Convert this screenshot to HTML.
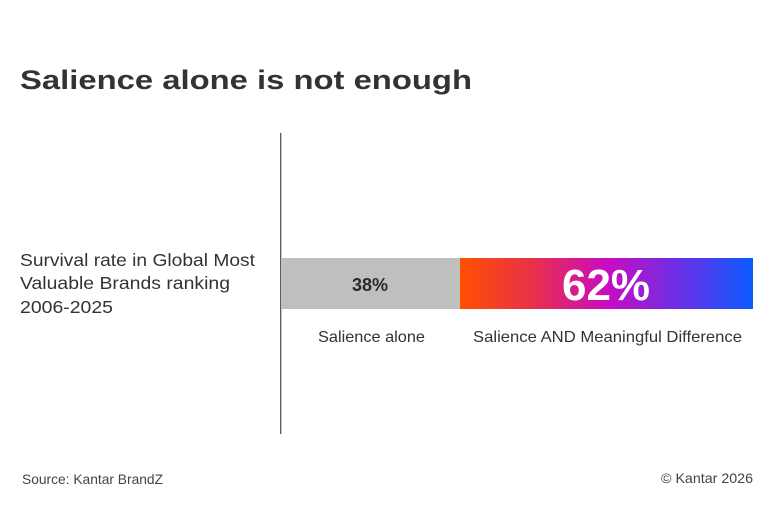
<!DOCTYPE html>
<html><head><meta charset="utf-8"><style>
html,body{margin:0;padding:0;background:#fff;}
svg{display:block;}
text{font-family:"Liberation Sans",sans-serif;}
</style></head><body>
<svg width="770" height="513" viewBox="0 0 770 513" xmlns="http://www.w3.org/2000/svg">
<defs>
<linearGradient id="g" x1="0" x2="1" y1="0" y2="0">
<stop offset="0" stop-color="#ff5000"/>
<stop offset="0.25" stop-color="#e8304a"/>
<stop offset="0.5" stop-color="#c80cc0"/>
<stop offset="0.75" stop-color="#6a30e6"/>
<stop offset="1" stop-color="#0a5cff"/>
</linearGradient>
</defs>
<rect width="770" height="513" fill="#fff"/>
<text x="20" y="89" font-size="26.5" font-weight="bold" fill="#333" textLength="452" lengthAdjust="spacingAndGlyphs">Salience alone is not enough</text>
<line x1="280.7" y1="133" x2="280.7" y2="434" stroke="#555" stroke-width="1.3"/>
<text x="20" y="266" font-size="17.5" fill="#333" textLength="235" lengthAdjust="spacingAndGlyphs">Survival rate in Global Most</text>
<text x="20" y="289" font-size="17.5" fill="#333" textLength="210" lengthAdjust="spacingAndGlyphs">Valuable Brands ranking</text>
<text x="20" y="313" font-size="17.5" fill="#333" textLength="93" lengthAdjust="spacingAndGlyphs">2006-2025</text>
<rect x="281" y="258" width="179" height="51" fill="#bfbfbf"/>
<rect x="460" y="258" width="293" height="51" fill="url(#g)"/>
<text x="370" y="291" font-size="18" font-weight="bold" fill="#2a2a2a" text-anchor="middle">38%</text>
<text x="562" y="300" font-size="44" font-weight="bold" fill="#fff" textLength="88" lengthAdjust="spacingAndGlyphs">62%</text>
<text x="318" y="342" font-size="16" fill="#333" textLength="107" lengthAdjust="spacingAndGlyphs">Salience alone</text>
<text x="473" y="342" font-size="16" fill="#333" textLength="269" lengthAdjust="spacingAndGlyphs">Salience AND Meaningful Difference</text>
<text x="22" y="484" font-size="14" fill="#444" textLength="141" lengthAdjust="spacingAndGlyphs">Source: Kantar BrandZ</text>
<text x="661" y="483" font-size="14" fill="#444" textLength="92" lengthAdjust="spacingAndGlyphs">© Kantar 2026</text>
</svg>
</body></html>
